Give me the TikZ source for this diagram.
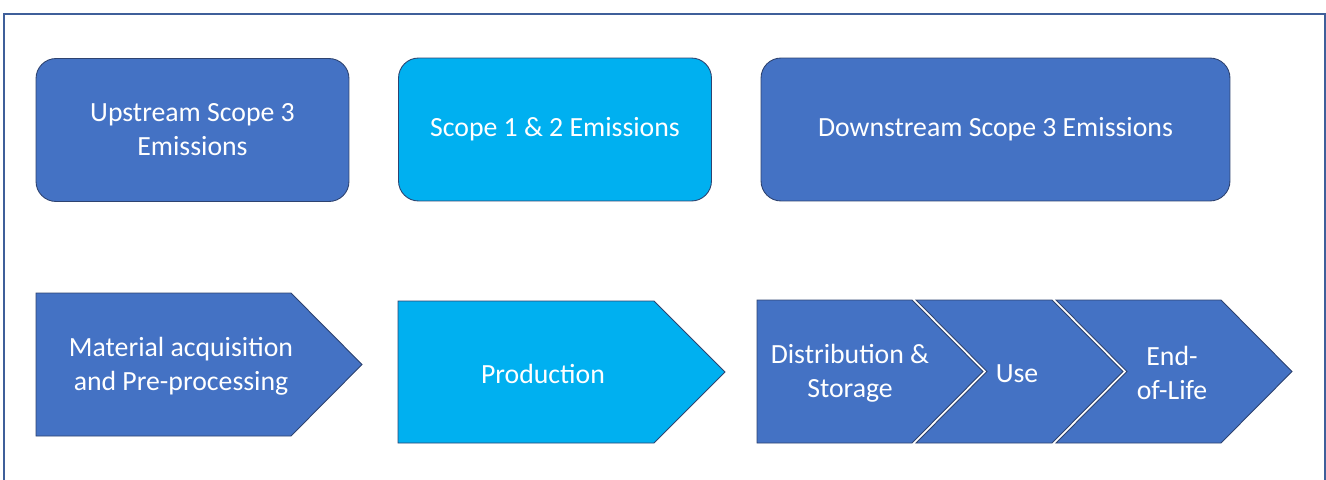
\documentclass[tikz,border=0pt]{standalone}
\usepackage{fontspec}
\setmainfont{Carlito}
\definecolor{darkblue}{HTML}{4472C4}
\definecolor{skyblue}{HTML}{00B0F0}
\definecolor{edge}{HTML}{2E4370}
\definecolor{frame}{HTML}{3F5F9A}

\tikzset{
	scopebox/.style={
		draw=edge,
		line width=0.5pt,
		rounded corners=0.4cm,
		minimum width=6.26cm,
		minimum height=2.86cm,
		text=white,
		align=center,
		font=\fontsize{15.8}{19.4}\selectfont,
	},
	stage/.style={
		draw=edge,
		line width=0.5pt,
	},
	stagetext/.style={
		text=white,
		align=center,
		font=\fontsize{15.8}{19.4}\selectfont,
	},
}

\begin{document}
\begin{tikzpicture}[x=0.02cm,y=-0.02cm]
\useasboundingbox (0,0) rectangle (1326,480);
% outer frame
\draw[frame, line width=0.7pt] (4,482) -- (4,14) -- (1325,14) -- (1325,482);

% top row
\node[scopebox, fill=darkblue] (upstream) at (192.5,130) {Upstream Scope 3\\Emissions};
\node[scopebox, fill=skyblue] (direct) at (555,129.5) {Scope 1 \& 2 Emissions};
\node[scopebox, fill=darkblue, minimum width=9.38cm] (downstream) at (995.5,129.5) {Downstream Scope 3 Emissions};

% bottom row
\filldraw[stage, fill=darkblue] (36,293) -- (291,293) -- (362,364.5) -- (291,436) -- (36,436) -- cycle;
\node[stagetext] (material) at (181,366) {Material acquisition\\and Pre-processing};

\filldraw[stage, fill=skyblue] (398,301) -- (654,301) -- (725,372) -- (654,443) -- (398,443) -- cycle;
\node[stagetext] (production) at (543,374) {Production};

\filldraw[stage, fill=darkblue] (757,300) -- (912,300) -- (983,371.5) -- (912,443) -- (757,443) -- cycle;
\node[stagetext] (distribution) at (850,373) {Distribution \&\\Storage};

\filldraw[stage, fill=darkblue] (916,300) -- (1052,300) -- (1123,371.5) -- (1052,443) -- (916,443) -- (987,371.5) -- cycle;
\node[stagetext] (use) at (1017,374) {Use};

\filldraw[stage, fill=darkblue] (1056,300) -- (1221,300) -- (1292,371.5) -- (1221,443) -- (1056,443) -- (1127,371.5) -- cycle;
\node[stagetext] (endoflife) at (1172,373) {End-\\of-Life};
\end{tikzpicture}
\end{document}
